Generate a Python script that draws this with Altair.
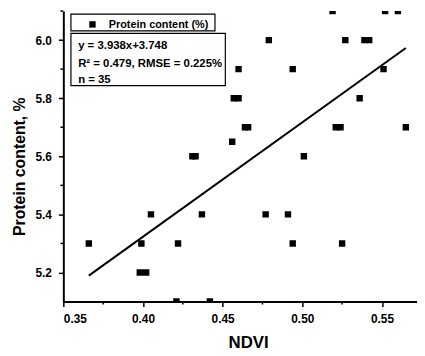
import altair as alt
import pandas as pd

ndvi = [0.519, 0.552, 0.560, 0.479, 0.527, 0.539, 0.542, 0.460, 0.494, 0.551,
        0.457, 0.460, 0.536, 0.464, 0.466, 0.521, 0.524, 0.565, 0.456, 0.431,
        0.433, 0.501, 0.405, 0.437, 0.477, 0.491, 0.366, 0.399, 0.422, 0.494,
        0.525, 0.398, 0.402, 0.421, 0.442]
protein = [6.1, 6.1, 6.1, 6.0, 6.0, 6.0, 6.0, 5.9, 5.9, 5.9,
           5.8, 5.8, 5.8, 5.7, 5.7, 5.7, 5.7, 5.7, 5.65, 5.6,
           5.6, 5.6, 5.4, 5.4, 5.4, 5.4, 5.3, 5.3, 5.3, 5.3,
           5.3, 5.2, 5.2, 5.1, 5.1]
slope, intercept = 3.938, 3.748
x_ticks = [0.35, 0.40, 0.45, 0.50, 0.55]
x_minor = [0.375, 0.425, 0.475, 0.525]
y_ticks = [5.2, 5.4, 5.6, 5.8, 6.0]
y_minor = [5.3, 5.5, 5.7, 5.9, 6.1]
legend_label = "Protein content (%)"
eq_lines = ["y = 3.938x+3.748", "R\u00b2 = 0.479, RMSE = 0.225%", "n = 35"]

FONT = "Liberation Sans"
W, H = 358, 294

df = pd.DataFrame({"ndvi": ndvi, "protein": protein})
xmin, xmax = min(ndvi), max(ndvi)
fit = pd.DataFrame({"ndvi": [xmin, xmax],
                    "protein": [slope * xmin + intercept, slope * xmax + intercept]})

xs = alt.Scale(domain=[0.35, 0.572], nice=False, zero=False)
ys = alt.Scale(domain=[5.1, 6.1], nice=False, zero=False)

xax = alt.Axis(values=x_ticks, format=".2f", title="NDVI", grid=False,
               tickSize=5, tickWidth=1.5, domainWidth=2, domainColor="black",
               tickColor="black", labelColor="black", labelFont=FONT,
               labelFontSize=12, labelFontWeight="bold", labelPadding=7,
               titleFont=FONT, titleFontSize=17, titleFontWeight="bold",
               titleColor="black", titleX=187, titleY=42, titleBaseline="middle",
               titleAlign="center")
yax = alt.Axis(values=y_ticks, format=".1f", title="Protein content, %", grid=False,
               tickSize=5, tickWidth=1.5, domainWidth=2, domainColor="black",
               tickColor="black", labelColor="black", labelFont=FONT,
               labelFontSize=12, labelFontWeight="bold", labelPadding=7,
               titleFont=FONT, titleFontSize=16, titleFontWeight="bold",
               titleColor="black", titleAngle=270, titleX=-44, titleY=157,
               titleBaseline="middle", titleAlign="center")

points = alt.Chart(df).mark_square(size=42, color="black", opacity=1, clip=True).encode(
    x=alt.X("ndvi:Q", scale=xs, axis=xax),
    y=alt.Y("protein:Q", scale=ys, axis=yax),
)
line = alt.Chart(fit).mark_line(color="black", strokeWidth=2).encode(
    x=alt.X("ndvi:Q", scale=xs), y=alt.Y("protein:Q", scale=ys))

xm = alt.Chart(pd.DataFrame({"v": x_minor})).mark_rule(color="black", strokeWidth=1.5).encode(
    x=alt.X("v:Q", scale=xs), y=alt.value(H), y2=alt.value(H + 3))
ym = alt.Chart(pd.DataFrame({"v": y_minor})).mark_rule(color="black", strokeWidth=1.5).encode(
    y=alt.Y("v:Q", scale=ys), x=alt.value(-3), x2=alt.value(0))

one = alt.Data(values=[{"a": 1}])
leg_box = alt.Chart(one).mark_rect(fill="white", stroke="black", strokeWidth=1.2).encode(
    x=alt.value(7.7), x2=alt.value(153.5), y=alt.value(3), y2=alt.value(20))
leg_sym = alt.Chart(one).mark_square(size=42, color="black", opacity=1).encode(
    x=alt.value(29.5), y=alt.value(13.5))
leg_txt = alt.Chart(one).mark_text(text=legend_label, font=FONT, fontSize=11,
                                   fontWeight="bold", align="left", baseline="alphabetic",
                                   color="black").encode(x=alt.value(46), y=alt.value(17.5))
eq_box = alt.Chart(one).mark_rect(fill="white", stroke="black", strokeWidth=1.2).encode(
    x=alt.value(7.7), x2=alt.value(164), y=alt.value(22.5), y2=alt.value(75.5))
eq_layers = []
for txt, yy in zip(eq_lines, [38, 56.3, 72.3]):
    eq_layers.append(alt.Chart(one).mark_text(text=txt, font=FONT, fontSize=11.5,
                                              fontWeight="bold", align="left",
                                              baseline="alphabetic", color="black")
                     .encode(x=alt.value(15), y=alt.value(yy)))

chart = alt.layer(points, line, xm, ym, leg_box, leg_sym, leg_txt, eq_box, *eq_layers).properties(
    width=W, height=H, autosize="none",
    padding={"left": 56, "top": 1, "right": 0, "bottom": 51},
    background="white",
).configure_view(stroke=None)

chart.save("out.html", embed_options={"renderer": "svg", "actions": False})
